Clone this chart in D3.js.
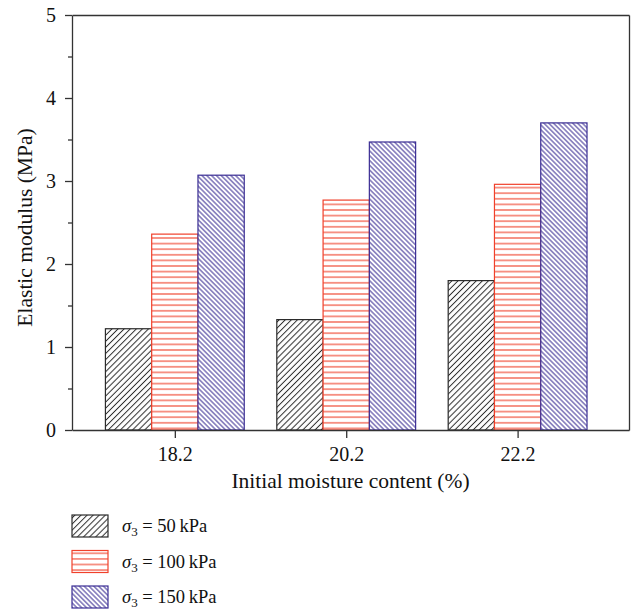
<!DOCTYPE html>
<html>
<head>
    <meta charset="utf-8">
    <title></title>
    <script src="https://d3js.org/d3.v7.min.js"></script>
<style>
body { margin: 0; background: #fff; }
svg { font-family: "Liberation Serif", "DejaVu Serif", serif; }
</style>
</head>
<body>
<div id="chart-container"></div>
<script>
const moisture = [18.2, 20.2, 22.2];
const seriesKeys = ['s50', 's100', 's150'];
const seriesLabels = ['50', '100', '150'];
const s50 = [1.22, 1.33, 1.80];
const s100 = [2.36, 2.77, 2.96];
const s150 = [3.07, 3.47, 3.70];
const yTicks = [0, 1, 2, 3, 4, 5];
const yMinorTicks = [0.5, 1.5, 2.5, 3.5, 4.5];

const colors = { s50: '#2b2b2b', s100: '#f0412b', s150: '#3b2e94' };

const width = 634, height = 612;
const plot = { left: 72, right: 629, top: 15, bottom: 430 };

const svg = d3.select('#chart-container').append('svg')
    .attr('width', width)
    .attr('height', height);

// hatch patterns
const defs = svg.append('defs');
function hatch(id, color, spacing, angle, sw) {
    const p = defs.append('pattern')
        .attr('id', id)
        .attr('patternUnits', 'userSpaceOnUse')
        .attr('width', spacing)
        .attr('height', spacing)
        .attr('patternTransform', `rotate(${angle})`);
    p.append('rect').attr('width', spacing).attr('height', spacing).attr('fill', '#fff');
    p.append('line')
        .attr('x1', spacing / 2).attr('x2', spacing / 2)
        .attr('y1', 0).attr('y2', spacing)
        .attr('stroke', color)
        .attr('stroke-width', sw);
}
hatch('pat-s50', colors.s50, 4.3, 45, 1);
hatch('pat-s100', colors.s100, 5.6, 90, 1.1);
hatch('pat-s150', colors.s150, 3.4, -45, 1);

const x = d3.scaleLinear().domain([17.0, 23.5]).range([plot.left, plot.right]);
const y = d3.scaleLinear().domain([0, 5]).range([plot.bottom, plot.top]);
const inner = d3.scaleBand().domain(seriesKeys).range([-0.81, 0.81]);

const rows = moisture.map((m, i) => ({ m, s50: s50[i], s100: s100[i], s150: s150[i] }));

const groups = svg.append('g').selectAll('g')
    .data(rows)
    .join('g');

groups.selectAll('rect')
    .data(d => seriesKeys.map(k => ({ k, m: d.m, v: d[k] })))
    .join('rect')
    .attr('x', d => x(d.m + inner(d.k)))
    .attr('width', d => x(d.m + inner(d.k) + inner.bandwidth()) - x(d.m + inner(d.k)))
    .attr('y', d => y(d.v))
    .attr('height', d => y(0) - y(d.v))
    .attr('fill', d => `url(#pat-${d.k})`)
    .attr('stroke', d => colors[d.k])
    .attr('stroke-width', 1.2);

// axes
const axisColor = '#333';
const tickFont = '20px';
const titleFont = '21.5px';

svg.append('g')
    .attr('transform', `translate(${plot.left},0)`)
    .call(d3.axisLeft(y).tickValues(yTicks).tickSize(7).tickSizeOuter(0).tickPadding(9).tickFormat(d3.format('d')));
svg.append('g')
    .attr('transform', `translate(${plot.left},0)`)
    .call(d3.axisLeft(y).tickValues(yMinorTicks).tickSize(4).tickFormat(''))
    .call(g => g.select('.domain').remove());

svg.append('g')
    .attr('transform', `translate(0,${plot.bottom})`)
    .call(d3.axisBottom(x).tickValues(moisture).tickSize(8).tickSizeOuter(0).tickPadding(9).tickFormat(d3.format('.1f')));

svg.append('g')
    .attr('transform', `translate(0,${plot.top})`)
    .call(d3.axisTop(x).tickValues([]).tickSizeOuter(0));
svg.append('g')
    .attr('transform', `translate(${plot.right},0)`)
    .call(d3.axisRight(y).tickValues([]).tickSizeOuter(0));

svg.selectAll('.domain, .tick line').attr('stroke', axisColor).attr('stroke-width', 1.3);
svg.selectAll('.tick text')
    .attr('fill', '#111')
    .style('font-family', '"Liberation Serif", serif')
    .style('font-size', tickFont);

svg.append('text')
    .attr('x', (plot.left + plot.right) / 2)
    .attr('y', 488)
    .attr('text-anchor', 'middle')
    .attr('fill', '#111')
    .style('font-size', titleFont)
    .text('Initial moisture content (%)');

svg.append('text')
    .attr('transform', `translate(32,${(plot.top + plot.bottom) / 2 + 5}) rotate(-90)`)
    .attr('text-anchor', 'middle')
    .attr('fill', '#111')
    .style('font-size', titleFont)
    .text('Elastic modulus (MPa)');

// legend
const legend = svg.append('g').attr('transform', 'translate(72,515)');
const item = legend.selectAll('g')
    .data(seriesKeys)
    .join('g')
    .attr('transform', (d, i) => `translate(0,${i * 35.5})`);
item.append('rect')
    .attr('width', 36)
    .attr('height', 22)
    .attr('fill', d => `url(#pat-${d})`)
    .attr('stroke', d => colors[d])
    .attr('stroke-width', 1.2);
const lt = item.append('text')
    .attr('x', 50)
    .attr('y', 17)
    .attr('fill', '#111')
    .style('font-size', '18.5px');
lt.append('tspan').style('font-style', 'italic').text('σ');
lt.append('tspan').attr('dy', 4).style('font-size', '13px').text('3');
lt.append('tspan').attr('dy', -4).text((d, i) => ` = ${seriesLabels[i]}\u2009kPa`);
</script>
</body>
</html>
